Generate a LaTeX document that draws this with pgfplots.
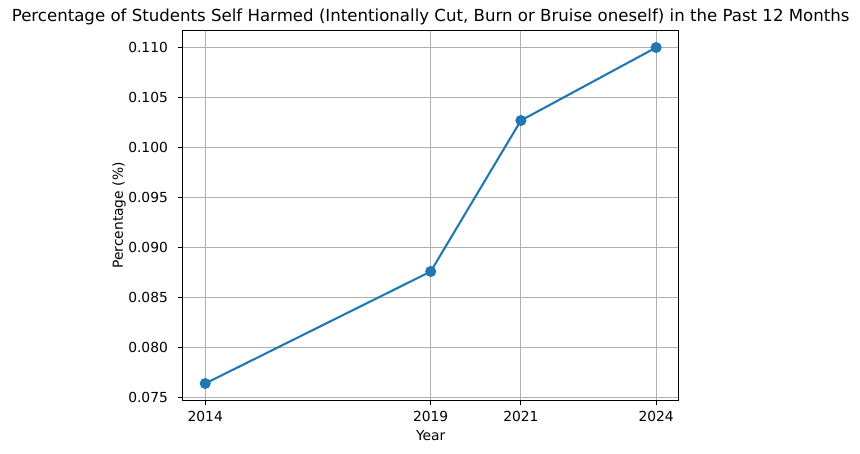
\documentclass[border=0pt]{standalone}
\usepackage{fontspec}
\setmainfont{DejaVu Sans}
\usepackage{pgfplots}
\pgfplotsset{compat=1.18}
\definecolor{mplblue}{HTML}{1F77B4}
\definecolor{mplgrid}{HTML}{B0B0B0}
\begin{document}
\begin{tikzpicture}
\useasboundingbox (-1.827in,-0.53in) rectangle (6.773in,4.003in);
\begin{axis}[
    scale only axis,
    width=4.96in, height=3.696in,
    xmin=2013.5, xmax=2024.5,
    ymin=0.07472, ymax=0.11168,
    xtick={2014,2019,2021,2024},
    ytick={0.075,0.080,0.085,0.090,0.095,0.100,0.105,0.110},
    xticklabel={\pgfmathprintnumber[precision=0,1000 sep={}]{\tick}},
    y tick label style={/pgf/number format/fixed, /pgf/number format/fixed zerofill, /pgf/number format/precision=3},
    /pgf/number format/assume math mode=true,
    tick align=outside, major tick length=3.5pt,
    tick style={black, line width=0.8pt},
    axis line style={line width=0.8pt},
    xtick pos=bottom, ytick pos=left,
    grid=major,
    major grid style={mplgrid, line width=0.8pt},
    every tick label/.append style={font=\fontsize{10}{12}\selectfont},
    xticklabel style={inner sep=0pt, anchor=base, yshift=-12pt},
    yticklabel style={inner sep=0pt, anchor=east, xshift=-7pt},
    title={Percentage of Students Self Harmed (Intentionally Cut, Burn or Bruise oneself) in the Past 12 Months},
    title style={at={(axis description cs:0.5,1)}, anchor=base, inner sep=0pt, yshift=1pt, font=\fontsize{12}{14}\selectfont},
    xlabel={Year},
    xlabel style={at={(axis description cs:0.5,0)}, anchor=base, inner sep=0pt, yshift=-28.8pt, font=\fontsize{10}{12}\selectfont},
    ylabel={Percentage (\%)},
    ylabel style={at={([xshift=-46pt]axis description cs:0,0.5)}, anchor=center, inner sep=0pt, font=\fontsize{10}{12}\selectfont},
]
\addplot[mplblue, line width=1.5pt, mark=*, mark size=3.2pt, mark options={solid, fill=mplblue, draw=none}] coordinates {
    (2014,0.0764) (2019,0.0876) (2021,0.1027) (2024,0.1100)
};
\end{axis}
\end{tikzpicture}
\end{document}
